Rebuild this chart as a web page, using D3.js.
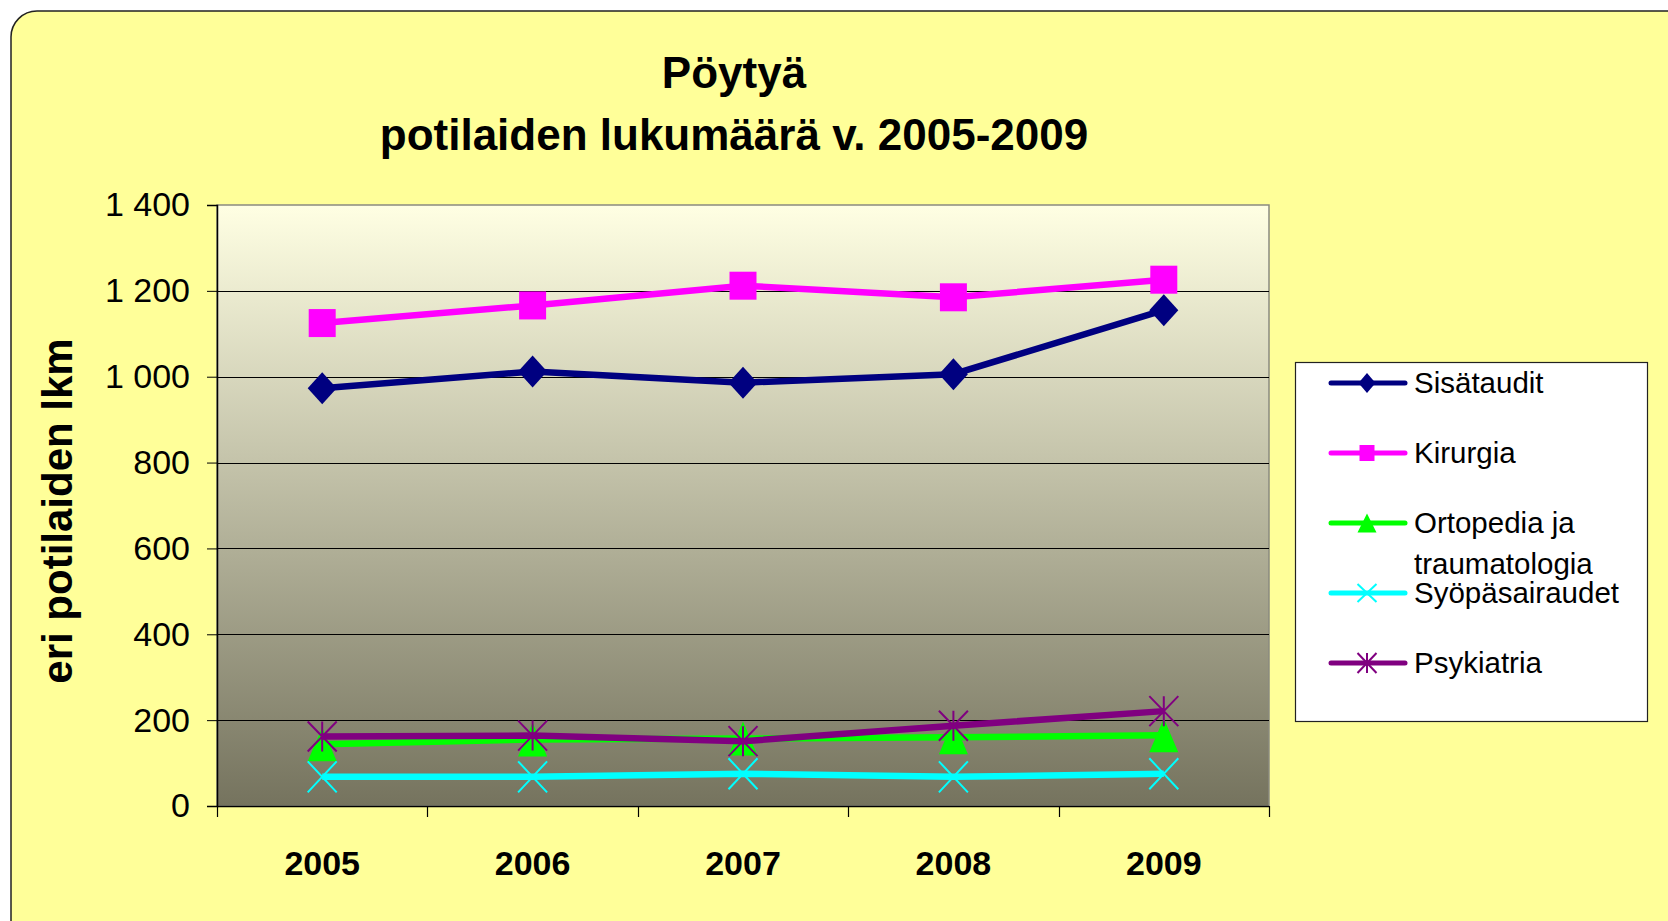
<!DOCTYPE html>
<html>
<head>
<meta charset="utf-8">
<script src="https://cdn.jsdelivr.net/npm/d3@7"></script>
<style>
  html, body { margin: 0; padding: 0; background: #fff; }
  svg { display: block; font-family: "Liberation Sans", Arial, sans-serif; }
</style>
</head>
<body>
<svg id="chart" width="1668" height="921"></svg>
<script>
// data
const years = ["2005", "2006", "2007", "2008", "2009"];
const seriesNames = ["Sisätaudit", "Kirurgia", "Ortopedia ja traumatologia", "Syöpäsairaudet", "Psykiatria"];
const sisataudit = [973, 1012, 986, 1006, 1155];
const kirurgia = [1125, 1166, 1212, 1185, 1226];
const ortopedia = [144, 155, 157, 160, 165];
const syopa = [68, 68, 75, 68, 75];
const psykiatria = [162, 164, 151, 187, 221];
const yTicks = [0, 200, 400, 600, 800, 1000, 1200, 1400];

const colors = ["#000080", "#FF00FF", "#00FF00", "#00FFFF", "#800080"];
const markers = ["diamond", "square", "triangle", "cross", "star"];
const values = [sisataudit, kirurgia, ortopedia, syopa, psykiatria];

const svg = d3.select("#chart");
const plotL = 217, plotR = 1269, plotT = 205, plotB = 806;

const x = d3.scaleBand().domain(years).range([plotL, plotR]);
const y = d3.scaleLinear().domain([0, 1400]).range([plotB, plotT]);
const fmt = d3.formatLocale({ decimal: ",", thousands: " ", grouping: [3], currency: ["", ""] }).format(",");

// chart area background
svg.append("rect")
  .attr("x", 11).attr("y", 11)
  .attr("width", 1690).attr("height", 940)
  .attr("rx", 26).attr("ry", 26)
  .attr("fill", "#FFFF99")
  .attr("stroke", "#222").attr("stroke-width", 1.5);

// plot area gradient
const defs = svg.append("defs");
const grad = defs.append("linearGradient").attr("id", "plotGrad")
  .attr("x1", 0).attr("y1", 0).attr("x2", 0).attr("y2", 1);
grad.append("stop").attr("offset", "0%").attr("stop-color", "#FFFFE3");
grad.append("stop").attr("offset", "100%").attr("stop-color", "#75735E");

svg.append("rect")
  .attr("x", plotL).attr("y", plotT)
  .attr("width", plotR - plotL).attr("height", plotB - plotT)
  .attr("fill", "url(#plotGrad)")
  .attr("stroke", "#8a8a80").attr("stroke-width", 1.5);

// gridlines
svg.append("g").selectAll("line")
  .data(yTicks.filter(d => d > 0 && d < 1400))
  .join("line")
  .attr("x1", plotL).attr("x2", plotR)
  .attr("y1", d => Math.round(y(d)) + 0.5).attr("y2", d => Math.round(y(d)) + 0.5)
  .attr("stroke", "#000").attr("stroke-width", 1);

// y axis
const yAxis = svg.append("g")
  .attr("transform", `translate(${plotL},0)`)
  .call(d3.axisLeft(y).tickValues(yTicks).tickFormat(fmt).tickSize(10).tickPadding(17));
yAxis.select(".domain").attr("stroke", "#000").attr("stroke-width", 1.5);
yAxis.selectAll(".tick line").attr("stroke", "#000");
yAxis.selectAll(".tick text")
  .attr("font-size", 34).attr("fill", "#000")
  .attr("font-family", "Liberation Sans, Arial, sans-serif");

// x axis: line with ticks at category boundaries
const xg = svg.append("g");
xg.append("line")
  .attr("x1", plotL).attr("x2", plotR)
  .attr("y1", plotB + 0.5).attr("y2", plotB + 0.5)
  .attr("stroke", "#000").attr("stroke-width", 1.5);
const bounds = years.map(d => x(d)).concat([x.range()[1]]);
xg.selectAll("line.tk").data(bounds).join("line")
  .attr("class", "tk")
  .attr("x1", d => Math.round(d) + 0.5).attr("x2", d => Math.round(d) + 0.5)
  .attr("y1", plotB).attr("y2", plotB + 11)
  .attr("stroke", "#000").attr("stroke-width", 1.2);
xg.selectAll("text").data(years).join("text")
  .attr("x", d => x(d) + x.bandwidth() / 2)
  .attr("y", 875)
  .attr("text-anchor", "middle")
  .attr("font-size", 34).attr("font-weight", "bold")
  .text(d => d);

// titles
svg.append("text")
  .attr("x", 734).attr("y", 88)
  .attr("text-anchor", "middle")
  .attr("font-size", 44).attr("font-weight", "bold")
  .text("Pöytyä");
svg.append("text")
  .attr("x", 734).attr("y", 150)
  .attr("text-anchor", "middle")
  .attr("font-size", 44).attr("font-weight", "bold")
  .text("potilaiden lukumäärä v. 2005-2009");
svg.append("text")
  .attr("transform", "translate(72,511) rotate(-90)")
  .attr("text-anchor", "middle")
  .attr("font-size", 42).attr("font-weight", "bold")
  .text("eri potilaiden lkm");

// marker shapes, w x h
function markerPath(type, w, h) {
  const a = w / 2, b = h / 2;
  switch (type) {
    case "diamond": return `M0,${-b}L${a},0L0,${b}L${-a},0Z`;
    case "square": return `M${-a},${-b}H${a}V${b}H${-a}Z`;
    case "triangle": return `M0,${-b}L${a},${b}L${-a},${b}Z`;
    case "cross": return `M${-a},${-b}L${a},${b}M${a},${-b}L${-a},${b}`;
    case "star": return `M${-a},${-b}L${a},${b}M${a},${-b}L${-a},${b}M0,${-b}V${b}`;
  }
}
const markerSize = {
  diamond: [29, 32], square: [27, 28], triangle: [29, 34], cross: [29, 31], star: [29, 30]
};
const legendSize = {
  diamond: [17, 20], square: [15, 16], triangle: [19, 19], cross: [19, 18], star: [19, 20]
};
function drawMarker(g, type, color, size) {
  const [w, h] = size[type];
  const p = g.append("path").attr("d", markerPath(type, w, h));
  if (type === "cross" || type === "star") {
    p.attr("fill", "none").attr("stroke", color).attr("stroke-width", 2);
  } else {
    p.attr("fill", color).attr("stroke", "none");
  }
}

// series lines + markers
const lineGen = d3.line().x((d, i) => x(years[i]) + x.bandwidth() / 2).y(d => y(d));
values.forEach((vals, s) => {
  const g = svg.append("g");
  g.append("path")
    .attr("d", lineGen(vals))
    .attr("fill", "none")
    .attr("stroke", colors[s])
    .attr("stroke-width", 6.5)
    .attr("stroke-linejoin", "round");
  vals.forEach((v, i) => {
    const mg = g.append("g")
      .attr("transform", `translate(${x(years[i]) + x.bandwidth() / 2},${y(v)})`);
    drawMarker(mg, markers[s], colors[s], markerSize);
  });
});

// legend
const lg = svg.append("g");
lg.append("rect")
  .attr("x", 1295.5).attr("y", 362.5)
  .attr("width", 352).attr("height", 359)
  .attr("fill", "#fff").attr("stroke", "#222").attr("stroke-width", 1.2);
const rowY = [383, 453, 523, 593, 663];
seriesNames.forEach((name, s) => {
  const g = lg.append("g").attr("transform", `translate(0,${rowY[s]})`);
  g.append("line")
    .attr("x1", 1331).attr("x2", 1405)
    .attr("stroke", colors[s]).attr("stroke-width", 5)
    .attr("stroke-linecap", "round");
  const mg = g.append("g").attr("transform", "translate(1367,0)");
  drawMarker(mg, markers[s], colors[s], legendSize);
  const t = g.append("text")
    .attr("x", 1414).attr("y", 10)
    .attr("font-size", 29.5).attr("fill", "#000");
  if (name === "Ortopedia ja traumatologia") {
    t.append("tspan").attr("x", 1414).attr("dy", 0).text("Ortopedia ja");
    t.append("tspan").attr("x", 1414).attr("dy", 41).text("traumatologia");
  } else {
    t.text(name);
  }
});
</script>
</body>
</html>
